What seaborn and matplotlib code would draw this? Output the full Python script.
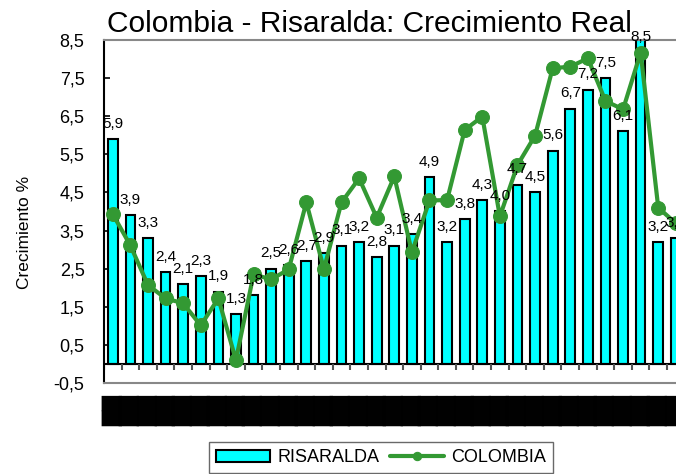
import numpy as np
import pandas as pd
import matplotlib
matplotlib.use('Agg')
import matplotlib.pyplot as plt
import seaborn as sns

# Values
risaralda = [5.9, 3.9, 3.3, 2.4, 2.1, 2.3, 1.9, 1.3, 1.8, 2.5, 2.6, 2.7, 2.9, 3.1, 3.2, 2.8, 3.1,
             3.4, 4.9, 3.2, 3.8, 4.3, 4.0, 4.7, 4.5, 5.6, 6.7, 7.2, 7.5, 6.1, 8.5, 3.2, 3.3]
colombia = [3.93, 3.11, 2.07, 1.72, 1.59, 1.01, 1.72, 0.10, 2.35, 2.22, 2.48, 4.24, 2.49, 4.24, 4.87,
            3.84, 4.92, 2.93, 4.29, 4.30, 6.14, 6.49, 3.87, 5.22, 5.99, 7.76, 7.80, 8.02, 6.90, 6.68,
            8.17, 4.10, 3.69]
# the category labels are unreadable in the original (they print as a solid black band)
tick_labels = ['██'] * len(risaralda)
y_ticks = [-0.5, 0.5, 1.5, 2.5, 3.5, 4.5, 5.5, 6.5, 7.5, 8.5]

df = pd.DataFrame({'idx': range(len(risaralda)), 'RISARALDA': risaralda, 'COLOMBIA': colombia})

sns.set_style('white')
plt.rcParams['font.family'] = ['Liberation Sans', 'DejaVu Sans']
plt.rcParams.update({'text.color': 'black', 'axes.labelcolor': 'black',
                     'xtick.color': 'black', 'ytick.color': 'black'})

fig = plt.figure(figsize=(6.76, 4.74), dpi=100)
ax = fig.add_axes([0.1538, 0.192, 0.872, 0.7236])

cyan = '#00FFFF'
green = '#339933'

sns.barplot(data=df, x='idx', y='RISARALDA', color=cyan, edgecolor='black', linewidth=1.5,
            width=0.55, saturation=1, errorbar=None, ax=ax)
sns.lineplot(data=df, x='idx', y='COLOMBIA', color=green, linewidth=3, marker='o',
             markersize=10, markeredgecolor=green, ax=ax)
col_line = ax.lines[-1]

# data labels on the bars
for i, v in enumerate(risaralda):
    off = -3 if v > 8 else 6
    ax.annotate(f'{v:.1f}'.replace('.', ','), (i, v), xytext=(0, off), textcoords='offset points',
                ha='center', va='bottom', fontsize=11, annotation_clip=False)

n = len(risaralda)
ax.set_xlim(-0.5, n)
ax.set_ylim(-0.5, 8.5)
ax.axhline(0, color='black', lw=1.5, zorder=1)
ax.vlines(np.arange(n + 1) - 0.5, -0.15, 0, color='#555555', lw=1.5, zorder=1)

ax.set_yticks(y_ticks)
ax.set_yticklabels([f'{v:.1f}'.replace('.', ',') for v in y_ticks], fontsize=13)
ax.tick_params(axis='y', direction='in', length=4, width=1.2, pad=14, left=True)

ax.set_xticks(range(n))
ax.set_xticklabels(tick_labels, rotation=90, fontsize=14.5, family=['DejaVu Sans'], va='top',
                   color='black')
ax.tick_params(axis='x', length=0, pad=9)

for s in ['top', 'bottom']:
    ax.spines[s].set_color('#888888')
    ax.spines[s].set_linewidth(1.5)
ax.spines['left'].set_color('black')
ax.spines['left'].set_linewidth(1.5)
ax.spines['right'].set_visible(False)

ax.set_xlabel('')
ax.set_ylabel('Crecimiento %', fontsize=12.5)
ax.yaxis.set_label_coords(-0.122, 0.44)

fig.text(0.547, 1 - 32 / 474, 'Colombia - Risaralda: Crecimiento Real', ha='center',
         va='baseline', fontsize=21.5)

fig.legend([ax.patches[0], col_line], ['RISARALDA', 'COLOMBIA'], loc='upper center',
           bbox_to_anchor=(0.5636, 0.0675), ncol=2, fontsize=13, frameon=True, fancybox=False,
           edgecolor='#444444', handlelength=3.0, columnspacing=0.6, handletextpad=0.4,
           borderaxespad=0, markerscale=0.6)

fig.savefig('out.png', dpi=100)
